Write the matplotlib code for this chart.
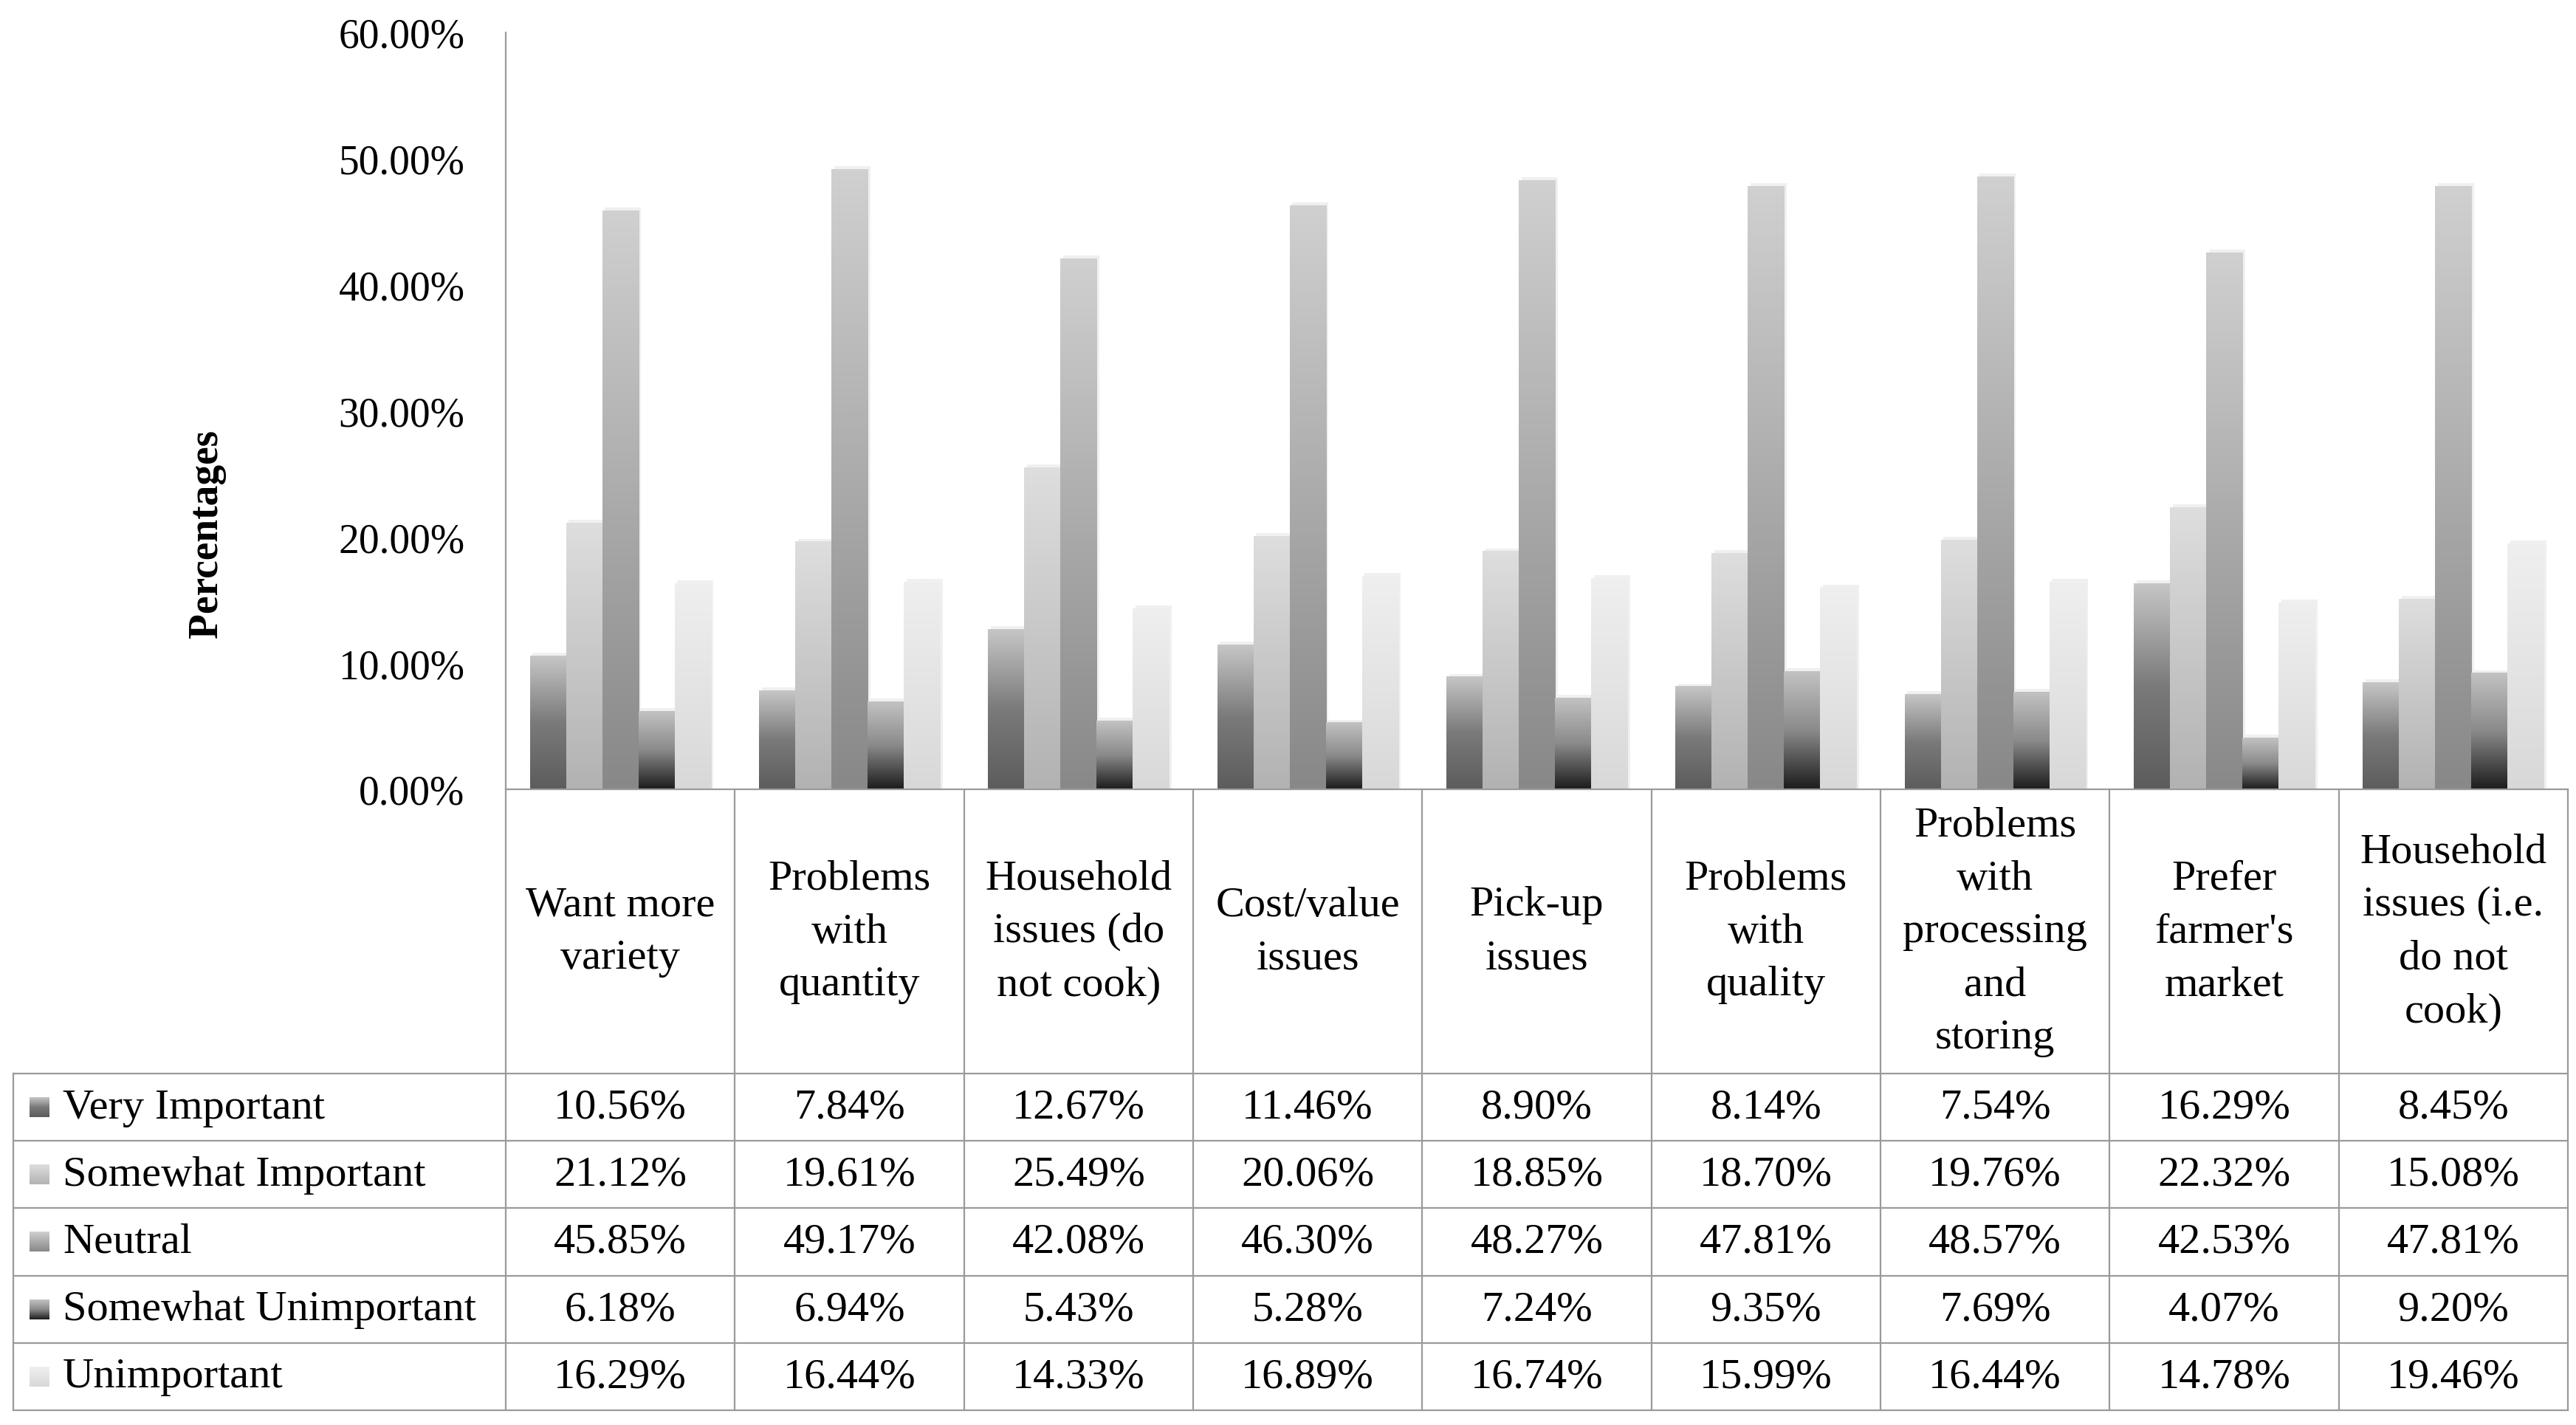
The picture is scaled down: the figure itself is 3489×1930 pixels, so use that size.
import numpy as np
import matplotlib
matplotlib.use("Agg")
import matplotlib.pyplot as plt
from matplotlib.colors import LinearSegmentedColormap

plt.rcParams["font.family"] = ["Liberation Serif", "DejaVu Serif"]

categories = [
    "Want more\nvariety",
    "Problems\nwith\nquantity",
    "Household\nissues (do\nnot cook)",
    "Cost/value\nissues",
    "Pick-up\nissues",
    "Problems\nwith\nquality",
    "Problems\nwith\nprocessing\nand\nstoring",
    "Prefer\nfarmer's\nmarket",
    "Household\nissues (i.e.\ndo not\ncook)",
]
series_names = ["Very Important", "Somewhat Important", "Neutral",
                "Somewhat Unimportant", "Unimportant"]
very_important = [10.56, 7.84, 12.67, 11.46, 8.90, 8.14, 7.54, 16.29, 8.45]
somewhat_important = [21.12, 19.61, 25.49, 20.06, 18.85, 18.70, 19.76, 22.32, 15.08]
neutral = [45.85, 49.17, 42.08, 46.30, 48.27, 47.81, 48.57, 42.53, 47.81]
somewhat_unimportant = [6.18, 6.94, 5.43, 5.28, 7.24, 9.35, 7.69, 4.07, 9.20]
unimportant = [16.29, 16.44, 14.33, 16.89, 16.74, 15.99, 16.44, 14.78, 19.46]
series = [very_important, somewhat_important, neutral, somewhat_unimportant, unimportant]
y_ticks = [0, 10, 20, 30, 40, 50, 60]

# bottom -> top gradient stops for each series
grad_stops = [
    ["#5c5c5c", "#7a7a7a", "#c6c6c6"],
    ["#b2b2b2", "#c8c8c8", "#dedede"],
    ["#888888", "#ababab", "#d0d0d0"],
    ["#1c1c1c", "#8a8a8a", "#c2c2c2"],
    ["#d8d8d8", "#e4e4e4", "#efefef"],
]
cmaps = [LinearSegmentedColormap.from_list(f"g{i}", s) for i, s in enumerate(grad_stops)]
grad = np.linspace(0, 1, 256).reshape(-1, 1)

W, H = 3489, 1931
DPI = 200
fig = plt.figure(figsize=(W / DPI, H / DPI), dpi=DPI)

# layout in pixels
L, R = 685, 3478
top_y, zero_y = 45, 1070
cat_row_bottom = 1455
row_h = 91.2
tab_left = 18
fs = 20
fs_tab = 21
serif = ["Liberation Serif", "DejaVu Serif"]
line_c = "#9a9a9a"
lw = 0.8

ax = fig.add_axes([L / W, 1 - zero_y / H, (R - L) / W, (zero_y - top_y) / H])
n = len(categories)
bw = 0.158
x = np.arange(n)
for i, vals in enumerate(series):
    xs = x + (i - 2) * bw
    bars = ax.bar(xs, vals, bw, color="none", edgecolor="none")
    for b in bars:
        x0, h = b.get_x(), b.get_height()
        # soft shadow
        ax.add_patch(plt.Rectangle((x0 + 0.012, 0), bw, h + 0.25, color="#000000",
                                   alpha=0.06, lw=0, zorder=1))
        ax.imshow(grad, extent=(x0, x0 + bw, 0, h), origin="lower", cmap=cmaps[i],
                  aspect="auto", interpolation="bilinear", zorder=2)
ax.set_xlim(-0.5, n - 0.5)
ax.set_ylim(0, 60)
ax.set_yticks(y_ticks)
ax.set_yticklabels([f"{t:.2f}%" for t in y_ticks], fontsize=fs, family=serif)
ax.tick_params(axis="y", length=0, pad=20)
ax.set_xticks([])
for s in ["top", "right", "bottom"]:
    ax.spines[s].set_visible(False)
ax.spines["left"].set_color(line_c)
ax.spines["left"].set_linewidth(lw)

fig.text(280 / W, 1 - 723 / H, "Percentages", rotation=90, fontsize=fs,
         fontweight="bold", ha="center", va="center", family=serif)

# data table below the chart, drawn in pixel coordinates
tab = fig.add_axes([0, 0, 1, 1])
tab.set_xlim(0, W)
tab.set_ylim(H, 0)
tab.axis("off")
colw = (R - L) / n
row_tops = [cat_row_bottom + k * row_h for k in range(len(series) + 1)]

tab.plot([L, R], [zero_y, zero_y], color=line_c, lw=lw)
for yy in row_tops:
    tab.plot([tab_left, R], [yy, yy], color=line_c, lw=lw)
tab.plot([tab_left, tab_left], [cat_row_bottom, row_tops[-1]], color=line_c, lw=lw)
for k in range(n + 1):
    xx = L + k * colw
    tab.plot([xx, xx], [zero_y, row_tops[-1]], color=line_c, lw=lw)

for k, lab in enumerate(categories):
    tab.text(L + (k + 0.5) * colw, (zero_y + cat_row_bottom) / 2, lab, ha="center",
             va="center", fontsize=fs_tab, linespacing=1.5, multialignment="center",
             family=serif)

key = 27
for i, (name, vals) in enumerate(zip(series_names, series)):
    yc = row_tops[i] + row_h / 2
    tab.imshow(grad, extent=(40, 40 + key, yc + key / 2, yc - key / 2), origin="lower",
               cmap=cmaps[i], aspect="auto", interpolation="bilinear")
    tab.text(85, yc, name, ha="left", va="center", fontsize=fs_tab, family=serif)
    for k, v in enumerate(vals):
        tab.text(L + (k + 0.5) * colw, yc, f"{v:.2f}%", ha="center", va="center",
                 fontsize=fs_tab, family=serif)
tab.set_xlim(0, W)
tab.set_ylim(H, 0)

fig.savefig("out.png", dpi=DPI, facecolor="white")
